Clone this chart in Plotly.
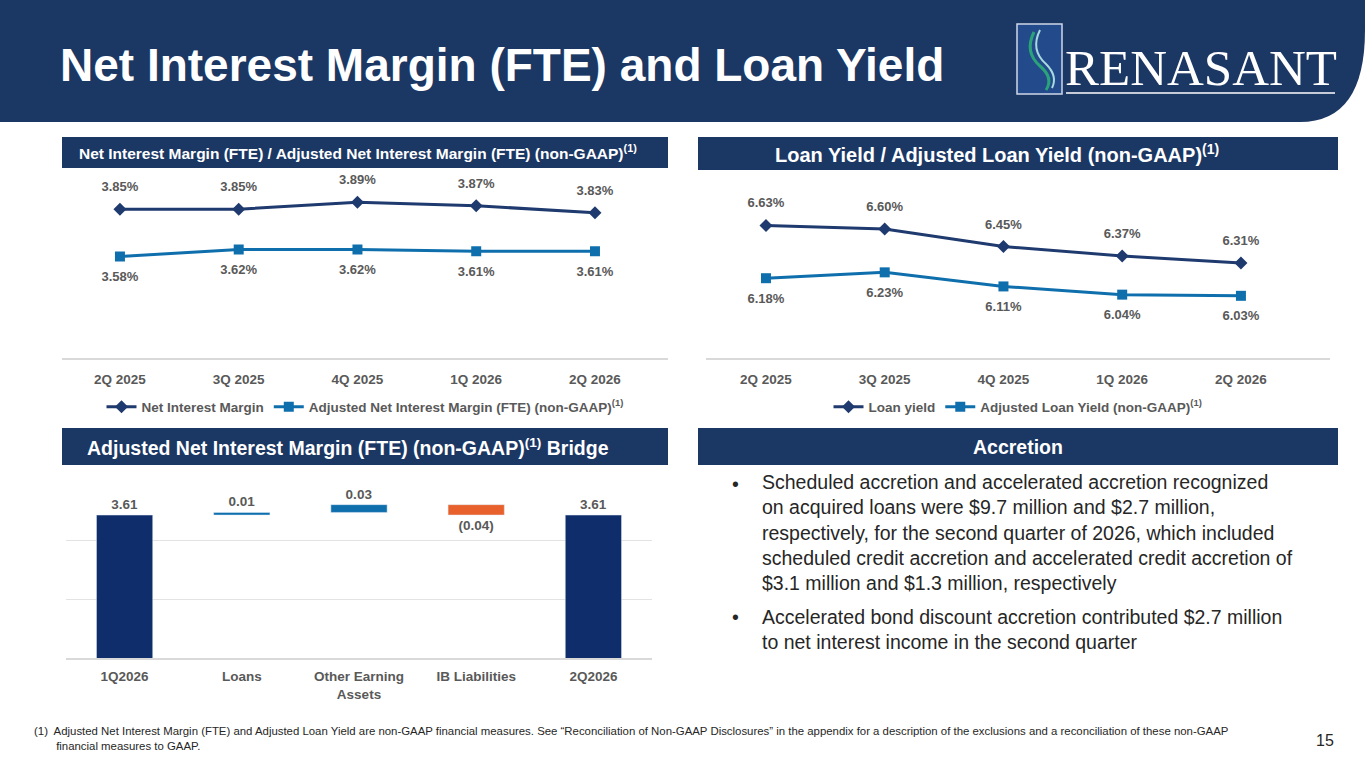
import plotly.graph_objects as go

W, H = 1365, 768

quarters = ["2Q 2025", "3Q 2025", "4Q 2025", "1Q 2026", "2Q 2026"]
nim = [3.85, 3.85, 3.89, 3.87, 3.83]
adj_nim = [3.58, 3.62, 3.62, 3.61, 3.61]
loan_yield = [6.63, 6.60, 6.45, 6.37, 6.31]
adj_loan_yield = [6.18, 6.23, 6.11, 6.04, 6.03]

bridge_cats = ["1Q2026", "Loans", "Other Earning<br>Assets", "IB Liabilities", "2Q2026"]
bridge_vals = [3.61, 0.01, 0.03, -0.04, 3.61]
bridge_text = ["3.61", "0.01", "0.03", "(0.04)", "3.61"]

NAVY = "#1b3764"
DARK = "#1f3a6e"
BLUE = "#0f6fad"
GRAY = "#595959"
FONT = "Liberation Sans, Arial, sans-serif"


def px(x):
    return x / W


def py(y):
    return 1 - y / H


fig = go.Figure()

# line charts
for a, b, n1, n2, ax, leg in [
        (nim, adj_nim, "Net Interest Margin", "Adjusted Net Interest Margin (FTE) (non-GAAP)<sup>(1)</sup>", "", "legend"),
        (loan_yield, adj_loan_yield, "Loan yield", "Adjusted Loan Yield (non-GAAP)<sup>(1)</sup>", "2", "legend2")]:
    for vals, name, col, sym, pos in [(a, n1, DARK, "diamond", "top center"), (b, n2, BLUE, "square", "bottom center")]:
        fig.add_trace(go.Scatter(x=quarters, y=vals, name=name, mode="lines+markers",
                                 line=dict(color=col, width=3), marker=dict(symbol=sym, size=10, color=col),
                                 xaxis="x" + ax, yaxis="y" + ax, legend=leg, cliponaxis=False))
        fig.add_trace(go.Scatter(x=quarters, y=vals, mode="markers+text", showlegend=False, hoverinfo="skip",
                                 marker=dict(size=22, opacity=0), text=[f"<b>{v:.2f}%</b>" for v in vals],
                                 textposition=pos, textfont=dict(size=13, color=GRAY, family=FONT),
                                 xaxis="x" + ax, yaxis="y" + ax, cliponaxis=False))

# bridge
bases, run = [], 0
for i, v in enumerate(bridge_vals):
    if i == 0 or i == len(bridge_vals) - 1:
        bases.append(0)
        run = v
    else:
        bases.append(run)
        run += v
colors = ["#0f2d6b", BLUE, BLUE, "#e8612c", "#0f2d6b"]
fig.add_trace(go.Bar(x=bridge_cats, y=bridge_vals, base=bases, marker_color=colors,
                     text=[f"<b>{t}</b>" for t in bridge_text], textposition="outside", cliponaxis=False,
                     textfont=dict(size=13.5, color=GRAY, family=FONT), width=0.48,
                     xaxis="x3", yaxis="y3", showlegend=False))

axis_x = dict(showgrid=False, showline=True, linecolor="#d9d9d9", linewidth=1.5, ticks="",
              tickfont=dict(size=13.5, color=GRAY, family=FONT, weight="bold"))
fig.update_layout(
    width=W, height=H, margin=dict(l=0, r=0, t=0, b=0), plot_bgcolor="white", paper_bgcolor="white",
    font=dict(family=FONT),
    xaxis=dict(axis_x, domain=[px(62), px(668)], range=[-0.488, 4.615], anchor="y", ticklabelstandoff=8),
    yaxis=dict(domain=[py(358), py(183)], range=[3.0, 4.0], visible=False, anchor="x"),
    xaxis2=dict(axis_x, domain=[px(706), px(1330)], range=[-0.505, 4.75], anchor="y2", ticklabelstandoff=8),
    yaxis2=dict(domain=[py(358), py(182)], range=[5.5, 7.0], visible=False, anchor="x2"),
    xaxis3=dict(axis_x, domain=[px(66), px(652)], range=[-0.5, 4.5], anchor="y3", ticklabelstandoff=5),
    yaxis3=dict(domain=[py(658), py(481)], range=[3.06, 3.741], showline=False, showticklabels=False,
                tickvals=[3.06 + 0.227 * k for k in range(4)], gridcolor="#e3e3e3", zeroline=False, anchor="x3"),
    legend=dict(orientation="h", x=px(365), xanchor="center", y=py(407), yanchor="middle",
                font=dict(size=13.5, color=GRAY, family=FONT, weight="bold"), traceorder="normal"),
    legend2=dict(orientation="h", x=px(1018), xanchor="center", y=py(407), yanchor="middle",
                 font=dict(size=13.5, color=GRAY, family=FONT, weight="bold"), traceorder="normal"),
)

shapes = [
    dict(type="path", xref="paper", yref="paper", fillcolor=NAVY, line=dict(width=0),
         path=f"M 0 1 L 1 1 L 1 {py(30)} Q 1 {py(122)} {px(1300)} {py(122)} L 0 {py(122)} Z"),
    dict(type="rect", xref="paper", yref="paper", x0=px(1017), x1=px(1062), y0=py(94), y1=py(24),
         fillcolor="#234a8a", line=dict(color="#d0d8e8", width=1.5)),
    dict(type="path", xref="paper", yref="paper", line=dict(color="#2aa37a", width=3),
         path=f"M {px(1034)} {py(32)} Q {px(1024)} {py(52)} {px(1040)} {py(66)} Q {px(1054)} {py(78)} {px(1046)} {py(90)}"),
    dict(type="path", xref="paper", yref="paper", line=dict(color="#a8d8e0", width=2),
         path=f"M {px(1040)} {py(30)} Q {px(1030)} {py(50)} {px(1046)} {py(64)} Q {px(1058)} {py(76)} {px(1052)} {py(88)}"),
    dict(type="line", xref="paper", yref="paper", x0=px(1066), x1=px(1335), y0=py(93), y1=py(93),
         line=dict(color="white", width=1.5)),
]
for x0, x1, y0, y1 in [(62, 668, 137, 168), (698, 1338, 137, 170), (62, 668, 428, 465), (698, 1338, 428, 465)]:
    shapes.append(dict(type="rect", xref="paper", yref="paper", x0=px(x0), x1=px(x1), y0=py(y1), y1=py(y0),
                       fillcolor=NAVY, line=dict(width=0), layer="below"))
fig.update_layout(shapes=shapes)

ann = []


def txt(x, y, s, size, color="white", xanchor="center", bold=True, family=FONT, align="center"):
    ann.append(dict(x=px(x), y=py(y), xref="paper", yref="paper", text=f"<b>{s}</b>" if bold else s,
                    showarrow=False, xanchor=xanchor, yanchor="middle", align=align,
                    font=dict(size=size, color=color, family=family)))


txt(58, 65, "Net Interest Margin (FTE) and Loan Yield", 46, xanchor="left")
txt(1201, 68, "RENASANT", 51, bold=False, family="Liberation Serif, DejaVu Serif, serif")
txt(358, 152, "Net Interest Margin (FTE) / Adjusted Net Interest Margin (FTE) (non-GAAP)<sup>(1)</sup>", 15.5)
txt(997, 153, "Loan Yield / Adjusted Loan Yield (non-GAAP)<sup>(1)</sup>", 20)
txt(348, 447, "Adjusted Net Interest Margin (FTE) (non-GAAP)<sup>(1)</sup> Bridge", 19.5)
txt(1018, 447, "Accretion", 19.5)
for y in (484, 617):
    txt(735, y, "•", 19.5, color="#262626", bold=False)
txt(760, 532,
    "Scheduled accretion and accelerated accretion recognized<br>"
    "on acquired loans were $9.7 million and $2.7 million,<br>"
    "respectively, for the second quarter of 2026, which included<br>"
    "scheduled credit accretion and accelerated credit accretion of<br>"
    "$3.1 million and $1.3 million, respectively",
    19.5, color="#262626", xanchor="left", bold=False, align="left")
txt(760, 629,
    "Accelerated bond discount accretion contributed $2.7 million<br>"
    "to net interest income in the second quarter",
    19.5, color="#262626", xanchor="left", bold=False, align="left")
txt(32, 738,
    "(1)  Adjusted Net Interest Margin (FTE) and Adjusted Loan Yield are non-GAAP financial measures. See “Reconciliation of Non-GAAP Disclosures” in the appendix for a description of the exclusions and a reconciliation of these non-GAAP<br>"
    "       financial measures to GAAP.",
    11.4, color="#262626", xanchor="left", bold=False, align="left")
txt(1325, 740, "15", 16, color="#262626", bold=False)
fig.update_layout(annotations=ann)

fig.write_html("out.html", config={"displayModeBar": False},
               post_script="document.body.style.margin='0';")
